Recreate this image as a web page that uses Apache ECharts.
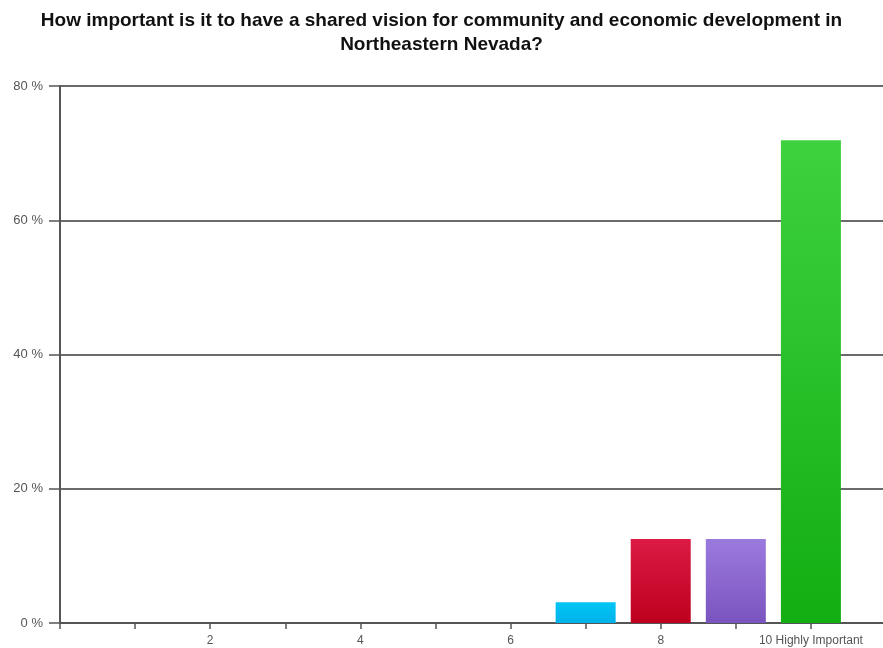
<!DOCTYPE html>
<html>
<head>
<meta charset="utf-8">
<script src="https://cdn.jsdelivr.net/npm/echarts@6/dist/echarts.min.js"></script>
<style>
html,body{margin:0;padding:0;background:#fff;}
#chart{width:883px;height:648px;}
</style>
</head>
<body>
<div id="chart"></div>
<script>
var titleLines = ["How important is it to have a shared vision for community and economic development in", "Northeastern Nevada?"];
var categories = [1, 2, 3, 4, 5, 6, 7, 8, 9, 10];
var values = [0, 0, 0, 0, 0, 0, 3.1, 12.5, 12.5, 71.9];
var xTickLabels = {2: "2", 4: "4", 6: "6", 8: "8", 10: "10 Highly Important"};
var yTicks = [0, 20, 40, 60, 80];
var barColors = [
  ["#00c8f8", "#00b0e8"], ["#00c8f8", "#00b0e8"], ["#00c8f8", "#00b0e8"],
  ["#00c8f8", "#00b0e8"], ["#00c8f8", "#00b0e8"], ["#00c8f8", "#00b0e8"],
  ["#02c6f6", "#00b2ea"], ["#dc1a44", "#be001e"], ["#9b7ade", "#7b54bf"], ["#3ed23e", "#12ae12"]
];

function grad(c) {
  return new echarts.graphic.LinearGradient(0, 0, 0, 1, [{offset: 0, color: c[0]}, {offset: 1, color: c[1]}]);
}

var chart = echarts.init(document.getElementById('chart'), null, {renderer: 'canvas'});
var data = categories.map(function (c, i) {
  return {value: [c, values[i]], itemStyle: {color: grad(barColors[i])}};
});

chart.setOption({
  animation: false,
  backgroundColor: '#ffffff',
  title: {
    text: titleLines.join('\n'),
    left: 'center',
    top: 4,
    textStyle: {fontFamily: 'Liberation Sans, Arial, sans-serif', fontWeight: 'bold', fontSize: 19, color: '#111', lineHeight: 24}
  },
  grid: {left: 60, top: 86, right: 0, height: 537, containLabel: false},
  xAxis: {
    type: 'value', min: 0, max: 10.96, interval: 1,
    axisLine: {show: true, lineStyle: {color: '#555', width: 2}},
    axisTick: {show: true, length: 6, lineStyle: {color: '#555', width: 1.5}},
    splitLine: {show: false},
    axisLabel: {
      color: '#555', fontSize: 12, fontFamily: 'Liberation Sans, Arial, sans-serif', margin: 12,
      showMinLabel: true, showMaxLabel: false,
      formatter: function (v) { return xTickLabels[v] || ''; }
    }
  },
  yAxis: {
    type: 'value', min: 0, max: 80, interval: 20,
    axisLine: {show: true, lineStyle: {color: '#555', width: 2}},
    axisTick: {show: true, length: 11, lineStyle: {color: '#555', width: 1.5}},
    splitLine: {show: true, lineStyle: {color: '#6a6a6a', width: 2}},
    axisLabel: {
      color: '#555', fontSize: 13, fontFamily: 'Liberation Sans, Arial, sans-serif', margin: 17,
      formatter: function (v) { return yTicks.indexOf(v) >= 0 ? v + ' %' : ''; }
    }
  },
  series: [{
    type: 'bar',
    barWidth: 60,
    data: data
  }]
});
</script>
</body>
</html>
